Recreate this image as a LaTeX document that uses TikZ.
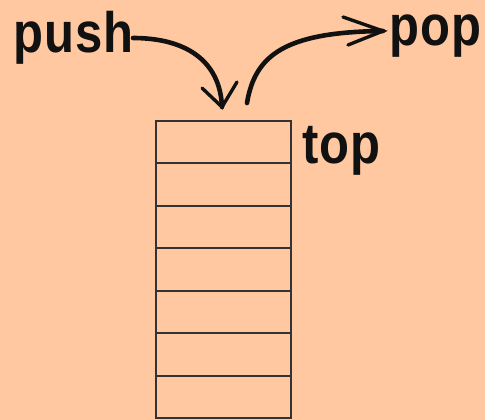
\documentclass[tikz,border=0pt]{standalone}
\usepackage{fontspec}
\newfontfamily\lbl[FakeStretch=0.86,LetterSpace=2]{Liberation Sans}
\definecolor{peach}{HTML}{FFC8A0}
\definecolor{ink}{HTML}{111111}
\begin{document}
\begin{tikzpicture}[x=1pt,y=-1pt,
  cell/.style={minimum width=135pt,inner sep=0pt,outer sep=0pt},
  grid/.style={draw=black!80,line width=2pt},
  lab/.style={font=\lbl\bfseries\fontsize{57}{60}\selectfont,text=ink,inner sep=0pt,anchor=base west},
  curve/.style={draw=ink,line width=4.6pt,line cap=round},
  barb/.style={draw=ink,line width=3.4pt,line cap=round}]
\fill[peach] (0,0) rectangle (485,420);
\useasboundingbox (0,0) rectangle (485,420);
\foreach \i/\a/\b in {1/121/163,2/163/206,3/206/248,4/248/291,5/291/333,6/333/376,7/376/418}{
  \node[cell,minimum height={(\b-\a)*1pt}] (c\i) at (223.5,{(\a+\b)/2}) {};
}
\draw[grid] (c1.north west) rectangle (c7.south east);
\foreach \i in {1,...,6}{
  \draw[grid] (c\i.south west) -- (c\i.south east);
}
\node[lab] (push) at (13,53) {push};
\node[lab] (pop) at (389,46) {pop};
\node[lab] (top) at (302,163) {top};
% push arrow
\coordinate (pushout) at (133,38);
\coordinate (intip) at (222,107);
\draw[curve] (pushout) .. controls (185,38) and (220,60) .. (intip);
\draw[barb] (202,88) -- (intip) -- (237,82);
% pop arrow
\coordinate (outstart) at (247,103);
\coordinate (outtip) at (383,31);
\draw[curve] (outstart) .. controls (255,55) and (285,32) .. (outtip);
\draw[barb] (343,17) -- (outtip) -- (348,45);
\end{tikzpicture}
\end{document}
